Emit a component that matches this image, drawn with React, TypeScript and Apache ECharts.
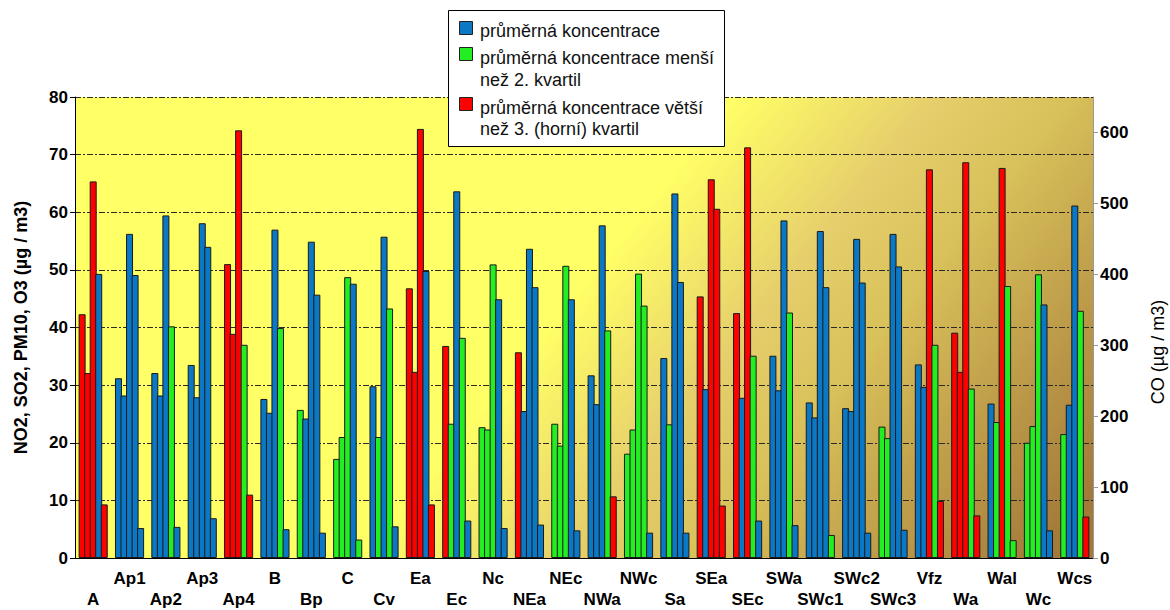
import React, { useEffect, useRef } from "react";
import * as echarts from "echarts";

const categories = ["A","Ap1","Ap2","Ap3","Ap4","B","Bp","C","Cv","Ea","Ec","Nc","NEa","NEc","NWa","NWc","Sa","SEa","SEc","SWa","SWc1","SWc2","SWc3","Vfz","Wa","Wal","Wc","Wcs"];

// left axis (µg/m3)
const no2 = [42.3,31.2,32.1,33.5,51.0,27.6,25.7,17.2,29.8,46.8,36.8,22.7,35.7,23.3,31.7,18.1,34.7,45.4,42.5,35.1,27.0,26.0,22.8,33.6,39.1,26.8,20.0,21.5];
const no2Class = "rbbbrbggbrrgrgbgbrrbbbgbrbgg";
const pm10 = [32.1,28.2,28.2,27.9,38.9,25.2,24.2,21.0,21.0,32.3,23.3,22.3,25.5,19.5,26.7,22.3,23.2,29.3,27.8,29.1,24.4,25.5,20.8,29.7,32.3,23.6,22.9,26.6];
const pm10Class = "rbbbrbbggrggbgbggbbbbbgbrggb";
// right axis (µg/m3)
const co = [531,457,483,472,603,463,446,396,453,605,517,414,436,412,469,401,514,534,579,476,461,450,457,548,558,550,400,497];
const coClass = "rbbbrbbgbrbgbgbgbrrbbbbrrrgb";
const o3 = [49.3,49.1,40.2,54.0,37.0,39.9,45.7,47.6,43.3,49.8,38.2,44.9,47.0,44.9,39.5,43.8,47.9,60.6,35.1,42.6,47.0,47.8,50.6,37.0,29.4,47.2,44.0,42.9];
const o3Class = "bbgbggbbgbgbbbggbrggbbbgggbg";
const so2 = [9.3,5.2,5.4,6.9,11.0,5.0,4.4,3.2,5.5,9.3,6.5,5.2,5.8,4.8,10.7,4.4,4.4,9.1,6.5,5.7,4.0,4.4,4.9,9.9,7.4,3.1,4.8,7.2];
const so2Class = "rbbbrbbgbrbbbbrbbrbbgbbrrgbr";

const leftTicks = [0, 80, 10];
const rightTicks = [0, 100, 200, 300, 400, 500, 600];

const legendLabels = [
  ["průměrná koncentrace"],
  ["průměrná koncentrace menší", "než 2. kvartil"],
  ["průměrná koncentrace větší", "než 3. (horní) kvartil"],
];

const COLORS: Record<string, string> = { b: "#0b78c6", g: "#22ee22", r: "#ff0000" };
const FONT = "'Liberation Sans', Arial, sans-serif";

export default function App() {
  const ref = useRef<HTMLDivElement>(null);
  useEffect(() => {
    if (!ref.current) return;
    const chart = echarts.init(ref.current, undefined, { renderer: "svg" });

    const mk = (name: string, vals: number[], cls: string, yIdx: number) => ({
      name,
      type: "bar",
      yAxisIndex: yIdx,
      barWidth: 7,
      barGap: "-21%",
      data: vals.map((v, i) => ({
        value: v,
        itemStyle: { color: COLORS[cls[i]], borderColor: "#1a1a1a", borderWidth: 1 },
      })),
    });

    const legendColors = [COLORS.b, COLORS.g, COLORS.r];
    const markerY = [21, 47, 97];
    const textLines = [[30.5], [58, 80], [108, 129]];
    const graphics: any[] = [
      {
        type: "rect",
        shape: { x: 448.5, y: 10.5, width: 276, height: 136 },
        style: { fill: "#ffffff", stroke: "#000", lineWidth: 1 },
        z: 100,
      },
    ];
    legendLabels.forEach((lines, k) => {
      graphics.push({
        type: "rect",
        shape: { x: 459.5, y: markerY[k] + 0.5, width: 13, height: 13 },
        style: { fill: legendColors[k], stroke: "#222", lineWidth: 1 },
        z: 101,
      });
      lines.forEach((t, j) => {
        graphics.push({
          type: "text",
          x: 480,
          y: textLines[k][j],
          style: { text: t, fontSize: 18, fontFamily: FONT, fill: "#111", verticalAlign: "middle", align: "left" },
          z: 101,
        });
      });
    });
    graphics.push({
      type: "text",
      x: 1158,
      y: 352,
      rotation: Math.PI / 2,
      style: { text: "CO (µg / m3)", fontSize: 18, fontFamily: FONT, fill: "#000", align: "center", verticalAlign: "middle" },
    });

    chart.setOption({
      animation: false,
      textStyle: { fontFamily: FONT },
      grid: {
        left: 75,
        right: 77,
        top: 97,
        bottom: 50,
        show: true,
        borderWidth: 0,
        backgroundColor: new echarts.graphic.LinearGradient(
          470, 425, 880, 755,
          [
            { offset: 0, color: "#ffff66" },
            { offset: 0.3, color: "#e6ce6c" },
            { offset: 0.5, color: "#d8c05a" },
            { offset: 1, color: "#a47a3a" },
          ],
          true
        ),
      },
      xAxis: [
        {
          type: "category",
          data: categories,
          axisLine: { lineStyle: { color: "#000", width: 1 } },
          axisTick: { alignWithLabel: true, length: 5, lineStyle: { color: "#000" } },
          axisLabel: {
            interval: 0,
            margin: 10,
            fontSize: 17,
            fontWeight: "bold",
            color: "#000",
            lineHeight: 21,
            formatter: (v: string, i: number) => (i % 2 === 0 ? "\n" + v : v),
          },
        },
        {
          type: "category",
          position: "top",
          data: categories,
          axisLine: { show: true, lineStyle: { color: "#000", width: 1 } },
          axisTick: { show: false },
          axisLabel: { show: false },
        },
      ],
      yAxis: [
        {
          type: "value",
          min: leftTicks[0],
          max: leftTicks[1],
          interval: leftTicks[2],
          name: "NO2, SO2, PM10, O3 (µg / m3)",
          nameLocation: "middle",
          nameGap: 45,
          nameTextStyle: { fontSize: 18, fontWeight: "bold", color: "#000" },
          axisLine: { show: true, lineStyle: { color: "#000" } },
          axisTick: { show: true, length: 5, lineStyle: { color: "#000" } },
          axisLabel: { fontSize: 17, fontWeight: "bold", color: "#000", margin: 7 },
          splitLine: { show: true, lineStyle: { color: "#2a2a2a", width: 1, type: [6, 2, 2, 2] } },
        },
        {
          type: "value",
          min: 0,
          max: 650,
          interval: 100,
          position: "right",
          axisLine: { show: true, lineStyle: { color: "#999" } },
          axisTick: { show: true, length: 5, lineStyle: { color: "#999" }, customValues: rightTicks },
          axisLabel: { fontSize: 17, fontWeight: "bold", color: "#000", margin: 7, customValues: rightTicks },
          splitLine: { show: false },
        },
      ],
      series: [
        mk("NO2", no2, no2Class, 0),
        mk("PM10", pm10, pm10Class, 0),
        mk("CO", co, coClass, 1),
        mk("O3", o3, o3Class, 0),
        mk("SO2", so2, so2Class, 0),
      ],
      graphic: graphics,
    });
    return () => chart.dispose();
  }, []);
  return <div ref={ref} style={{ position: "absolute", left: 0, top: 0, width: 1170, height: 610, background: "#fff" }} />;
}
